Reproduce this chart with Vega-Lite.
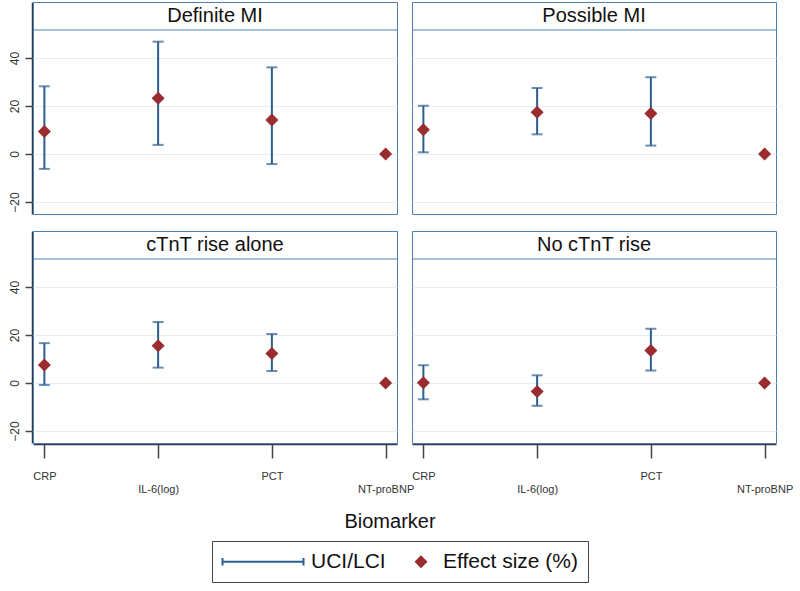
{
  "$schema": "https://vega.github.io/schema/vega-lite/v6.json",
  "padding": {"left": 7, "top": 1, "right": 5, "bottom": 3},
  "datasets": {
    "d": [
      {"panel": "Definite MI", "biomarker": "CRP", "est": 9.4, "lci": -6.2, "uci": 28.2},
      {"panel": "Definite MI", "biomarker": "IL-6(log)", "est": 23.2, "lci": 3.8, "uci": 46.8},
      {"panel": "Definite MI", "biomarker": "PCT", "est": 14.2, "lci": -4.2, "uci": 36.1},
      {"panel": "Definite MI", "biomarker": "NT-proBNP", "est": 0, "lci": null, "uci": null},
      {"panel": "Possible MI", "biomarker": "CRP", "est": 10.1, "lci": 0.7, "uci": 20.1},
      {"panel": "Possible MI", "biomarker": "IL-6(log)", "est": 17.4, "lci": 8.2, "uci": 27.5},
      {"panel": "Possible MI", "biomarker": "PCT", "est": 16.9, "lci": 3.5, "uci": 32.0},
      {"panel": "Possible MI", "biomarker": "NT-proBNP", "est": 0, "lci": null, "uci": null},
      {"panel": "cTnT rise alone", "biomarker": "CRP", "est": 7.5, "lci": -0.8, "uci": 16.6},
      {"panel": "cTnT rise alone", "biomarker": "IL-6(log)", "est": 15.5, "lci": 6.4, "uci": 25.4},
      {"panel": "cTnT rise alone", "biomarker": "PCT", "est": 12.3, "lci": 5.0, "uci": 20.4},
      {"panel": "cTnT rise alone", "biomarker": "NT-proBNP", "est": 0, "lci": null, "uci": null},
      {"panel": "No cTnT rise", "biomarker": "CRP", "est": 0.1, "lci": -6.8, "uci": 7.4},
      {"panel": "No cTnT rise", "biomarker": "IL-6(log)", "est": -3.5, "lci": -9.5, "uci": 3.2},
      {"panel": "No cTnT rise", "biomarker": "PCT", "est": 13.5, "lci": 5.2, "uci": 22.6},
      {"panel": "No cTnT rise", "biomarker": "NT-proBNP", "est": 0, "lci": null, "uci": null}
    ]
  },
  "config": {
    "font": "Liberation Sans",
    "view": {"stroke": "#4f80b5", "strokeWidth": 1},
    "axis": {
      "domainColor": "#2e3b4e", "domainWidth": 1.5, "tickColor": "#444", "tickWidth": 1.5,
      "labelFont": "Liberation Sans", "labelColor": "#333", "gridColor": "#e3eef7", "gridWidth": 1
    },
    "legend": {"layout": {"bottom": {"anchor": "middle"}}}
  },
  "vconcat": [
    {
      "data": {"name": "d"},
      "facet": {"field": "panel", "type": "nominal", "sort": ["Definite MI", "Possible MI", "cTnT rise alone", "No cTnT rise"], "title": null, "header": {"title": null, "labelExpr": "''", "labelFontSize": 0, "labelPadding": 0, "labelLimit": 1}},
      "columns": 2,
      "spacing": {"row": 15, "column": 13},
      "spec": {
        "width": 364,
        "height": 212,
        "layer": [
          {
            "transform": [{"aggregate": [], "groupby": ["panel"]}],
            "layer": [
              {"mark": {"type": "rule", "color": "#4f80b5", "strokeWidth": 1}, "encoding": {"y": {"datum": 51.67, "type": "quantitative"}}},
              {"mark": {"type": "text", "fontSize": 20, "color": "#111"}, "encoding": {"y": {"datum": 57.5, "type": "quantitative"}, "text": {"field": "panel"}}}
            ]
          },
          {
            "encoding": {"x": {"field": "biomarker", "type": "nominal", "scale": {"type": "point", "padding": 0.1, "domain": ["CRP", "IL-6(log)", "PCT", "NT-proBNP"]}, "axis": {"labelAngle": 0, "tickSize": 14, "labelFontSize": 11, "labelOverlap": false, "title": null, "labelPadding": {"condition": {"test": "datum.value === 'IL-6(log)' || datum.value === 'NT-proBNP'", "value": 25}, "value": 12}}}},
            "layer": [
              {"mark": {"type": "rule", "strokeWidth": 2}, "encoding": {
                "y": {"field": "lci", "type": "quantitative", "scale": {"domain": [-25, 63.33], "nice": false, "zero": false}, "axis": {"values": [-20, 0, 20, 40], "labelAngle": -90, "tickSize": 7, "labelFontSize": 12, "labelPadding": 4, "title": null, "grid": true}},
                "y2": {"field": "uci"},
                "color": {"datum": "UCI/LCI", "scale": {"domain": ["UCI/LCI", "Effect size (%)"], "range": ["#2c5e8f", "#9a2b2e"]}, "legend": {
                  "title": null, "orient": "bottom", "direction": "horizontal", "strokeColor": "#444", "padding": 10, "labelFontSize": 21, "labelFont": "Liberation Sans", "labelColor": "#111", "symbolSize": 6400, "columnPadding": 28, "labelLimit": 300, "offset": 9,
                  "encode": {
                    "symbols": {"update": {
                      "shape": {"signal": "datum.value === 'UCI/LCI' ? 'M-1,-0.09L-1,0.09M-1,0L1,0M1,-0.09L1,0.09' : 'diamond'"},
                      "size": {"signal": "datum.value === 'UCI/LCI' ? 6561 : 170"},
                      "x": {"signal": "datum.value === 'UCI/LCI' ? 41 : 7"},
                      "strokeWidth": {"signal": "datum.value === 'UCI/LCI' ? 2 : 0"},
                      "fill": {"signal": "datum.value === 'UCI/LCI' ? 'transparent' : '#9a2b2e'"},
                      "stroke": {"signal": "datum.value === 'UCI/LCI' ? '#2c5e8f' : 'transparent'"},
                      "opacity": {"value": 1}
                    }},
                    "labels": {"update": {
                      "x": {"signal": "datum.value === 'UCI/LCI' ? 89 : 29"}
                    }}
                  }
                }}
              }},
              {"mark": {"type": "tick", "size": 11, "thickness": 2}, "encoding": {"y": {"field": "lci", "type": "quantitative"}, "color": {"datum": "UCI/LCI"}}},
              {"mark": {"type": "tick", "size": 11, "thickness": 2}, "encoding": {"y": {"field": "uci", "type": "quantitative"}, "color": {"datum": "UCI/LCI"}}},
              {"mark": {"type": "point", "shape": "diamond", "filled": true, "size": 170, "opacity": 1}, "encoding": {"y": {"field": "est", "type": "quantitative"}, "color": {"datum": "Effect size (%)"}}}
            ]
          }
        ]
      }
    },
    {
      "width": 714, "height": 20, "view": {"stroke": null},
      "data": {"values": [{"t": "Biomarker"}]},
      "mark": {"type": "text", "fontSize": 20, "color": "#111"},
      "encoding": {"text": {"field": "t"}}
    }
  ],
  "spacing": 18
}
